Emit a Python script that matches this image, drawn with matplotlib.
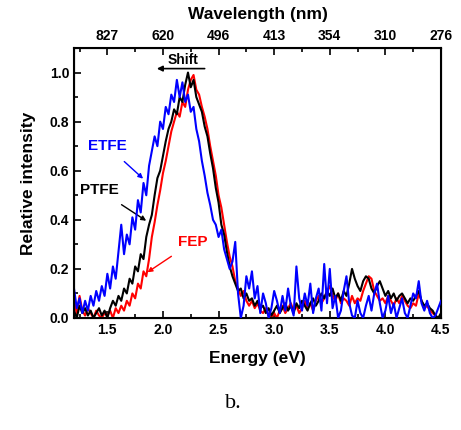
import numpy as np
import matplotlib.pyplot as plt

plt.rcParams['font.family'] = ['Liberation Sans', 'DejaVu Sans']
plt.rcParams['font.weight'] = 'bold'

# PL spectra, sampled every 0.025 eV from 1.2 eV
ptfe = [0.03, 0.00, 0.05, 0.02, 0.04, 0.01, 0.03, 0.00, 0.02, 0.04, 0.01, 0.03,
        0.00, 0.04, 0.07, 0.05, 0.09, 0.07, 0.12, 0.10, 0.16, 0.14, 0.21, 0.19,
        0.26, 0.24, 0.33, 0.38, 0.42, 0.50, 0.57, 0.60, 0.66, 0.72, 0.77, 0.80,
        0.85, 0.83, 0.90, 0.88, 0.95, 1.00, 0.94, 0.97, 0.90, 0.87, 0.84, 0.78,
        0.74, 0.67, 0.61, 0.53, 0.47, 0.38, 0.34, 0.27, 0.21, 0.17, 0.14, 0.11,
        0.12, 0.08, 0.10, 0.07, 0.08, 0.05, 0.07, 0.04, 0.05, 0.02, 0.04, 0.01,
        0.03, 0.05, 0.02, 0.04, 0.06, 0.03, 0.05, 0.02, 0.06, 0.04, 0.07, 0.05,
        0.03, 0.06, 0.08, 0.05, 0.07, 0.10, 0.08, 0.11, 0.09, 0.12, 0.08, 0.10,
        0.07, 0.11, 0.09, 0.14, 0.20, 0.16, 0.13, 0.11, 0.15, 0.17, 0.16, 0.12,
        0.10, 0.13, 0.15, 0.12, 0.09, 0.11, 0.08, 0.10, 0.07, 0.09, 0.10, 0.08,
        0.06, 0.08, 0.07, 0.09, 0.11, 0.07, 0.05, 0.06, 0.04, 0.03, 0.01, 0.00,
        0.02]

fep = [0.07, 0.02, 0.09, 0.03, 0.01, 0.04, 0.02, 0.00, 0.03, 0.01, 0.00, 0.02,
       0.01, 0.03, 0.00, 0.04, 0.02, 0.05, 0.03, 0.07, 0.05, 0.10, 0.08, 0.14,
       0.12, 0.19, 0.17, 0.24, 0.33, 0.39, 0.46, 0.52, 0.59, 0.64, 0.70, 0.76,
       0.80, 0.84, 0.82, 0.88, 0.86, 0.93, 0.97, 0.99, 0.93, 0.91, 0.86, 0.82,
       0.77, 0.70, 0.64, 0.58, 0.50, 0.45, 0.38, 0.31, 0.25, 0.21, 0.15, 0.12,
       0.09, 0.11, 0.07, 0.05, 0.07, 0.04, 0.06, 0.03, 0.02, 0.04, 0.01, 0.00,
       0.02, 0.00, 0.03, 0.05, 0.02, 0.04, 0.06, 0.03, 0.05, 0.02, 0.04, 0.07,
       0.04, 0.06, 0.03, 0.07, 0.09, 0.06, 0.08, 0.11, 0.13, 0.09, 0.07, 0.10,
       0.06, 0.08, 0.07, 0.05, 0.09, 0.06, 0.08, 0.07, 0.11, 0.14, 0.17, 0.16,
       0.11, 0.09, 0.07, 0.08, 0.06, 0.09, 0.07, 0.05, 0.08, 0.06, 0.09, 0.07,
       0.05, 0.04, 0.06, 0.05, 0.10, 0.07, 0.04, 0.05, 0.03, 0.02, 0.01, 0.00,
       0.00]

etfe = [0.12, 0.04, 0.08, 0.02, 0.07, 0.03, 0.09, 0.05, 0.11, 0.07, 0.13, 0.09,
        0.18, 0.12, 0.21, 0.16, 0.27, 0.38, 0.26, 0.34, 0.30, 0.41, 0.36, 0.48,
        0.43, 0.55, 0.50, 0.62, 0.68, 0.74, 0.70, 0.80, 0.77, 0.86, 0.83, 0.91,
        0.88, 0.97, 0.90, 0.96, 0.88, 0.91, 0.84, 0.86, 0.77, 0.72, 0.64, 0.58,
        0.51, 0.46, 0.40, 0.38, 0.33, 0.36, 0.28, 0.24, 0.20, 0.23, 0.31, 0.10,
        0.00, 0.05, 0.17, 0.12, 0.19, 0.08, 0.13, 0.02, 0.10, 0.06, 0.00, 0.04,
        0.11, 0.07, 0.02, 0.09, 0.03, 0.12, 0.05, 0.01, 0.21, 0.08, 0.03, 0.10,
        0.05, 0.14, 0.02, 0.08, 0.12, 0.03, 0.22, 0.06, 0.20, 0.04, 0.09, 0.00,
        0.03, 0.11, 0.17, 0.06, 0.01, 0.00, 0.07, 0.02, 0.00, 0.05, 0.09, 0.03,
        0.10, 0.14, 0.06, 0.00, 0.03, 0.09, 0.02, 0.06, 0.00, 0.04, 0.08, 0.02,
        0.00, 0.05, 0.10, 0.08, 0.15, 0.06, 0.03, 0.07, 0.02, 0.00, 0.01, 0.04,
        0.07]

e_ticks = [1.5, 2.0, 2.5, 3.0, 3.5, 4.0, 4.5]
wl_labels = ['827', '620', '496', '413', '354', '310', '276']


def grid(vals):
    return 1.2 + 0.025 * np.arange(len(vals))


fig = plt.figure(figsize=(4.61, 4.30), dpi=100)
ax = fig.add_axes([0.1605, 0.2605, 0.7961, 0.6279])

ax.plot(grid(ptfe), ptfe, color='black', lw=1.5, zorder=3)
ax.plot(grid(fep), fep, color='red', lw=1.5, zorder=2)
ax.plot(grid(etfe), etfe, color='blue', lw=1.5, zorder=4)

ax.set_xlim(1.2, 4.5)
ax.set_ylim(0, 1.1)
ax.set_xticks(e_ticks)
ax.set_xticks(np.arange(1.25, 4.5, 0.25), minor=True)
ax.set_yticks([0.0, 0.2, 0.4, 0.6, 0.8, 1.0])
ax.set_yticks([0.1, 0.3, 0.5, 0.7, 0.9], minor=True)
ax.tick_params(which='both', direction='in', labelsize=10, width=1.2)
ax.tick_params(which='major', length=5)
ax.tick_params(which='minor', length=3)
for s in ax.spines.values():
    s.set_linewidth(1.5)

ax.set_xlabel('Energy (eV)', fontsize=12.5, fontweight='bold', labelpad=10)
ax.set_ylabel('Relative intensity', fontsize=12.5, fontweight='bold', labelpad=10)

top = ax.twiny()
top.set_xlim(ax.get_xlim())
top.set_xticks(e_ticks)
top.set_xticklabels(wl_labels)
top.set_xticks(np.arange(1.25, 4.5, 0.25), minor=True)
top.tick_params(which='both', direction='in', labelsize=10, width=1.2)
top.tick_params(which='major', length=5)
top.tick_params(which='minor', length=3)
top.set_xlabel('Wavelength (nm)', fontsize=12.5, fontweight='bold', labelpad=7)

# annotations
ax.annotate('', xy=(1.92, 1.016), xytext=(2.40, 1.016),
            arrowprops=dict(arrowstyle='-|>', color='black', lw=1.2,
                            mutation_scale=8))
ax.text(2.18, 1.05, 'Shift', ha='center', va='center', fontsize=10,
        fontweight='bold')

ax.annotate('ETFE', xy=(1.84, 0.56), xytext=(1.50, 0.70), color='blue',
            fontsize=11, fontweight='bold', ha='center', va='center',
            arrowprops=dict(arrowstyle='-|>', color='blue', lw=1.0,
                            mutation_scale=7, shrinkA=6))
ax.annotate('PTFE', xy=(1.87, 0.39), xytext=(1.43, 0.52), color='black',
            fontsize=11, fontweight='bold', ha='center', va='center',
            arrowprops=dict(arrowstyle='-|>', color='black', lw=1.0,
                            mutation_scale=7, shrinkA=6))
ax.annotate('FEP', xy=(1.84, 0.18), xytext=(2.27, 0.31), color='red',
            fontsize=11, fontweight='bold', ha='center', va='center',
            arrowprops=dict(arrowstyle='-|>', color='red', lw=1.0,
                            mutation_scale=7, shrinkA=6))

fig.text(233 / 461, 1 - 403 / 430, 'b.', ha='center', va='center',
         fontsize=16, fontweight='normal',
         family=['Liberation Serif', 'DejaVu Serif'])

fig.savefig('out.png', dpi=100)
